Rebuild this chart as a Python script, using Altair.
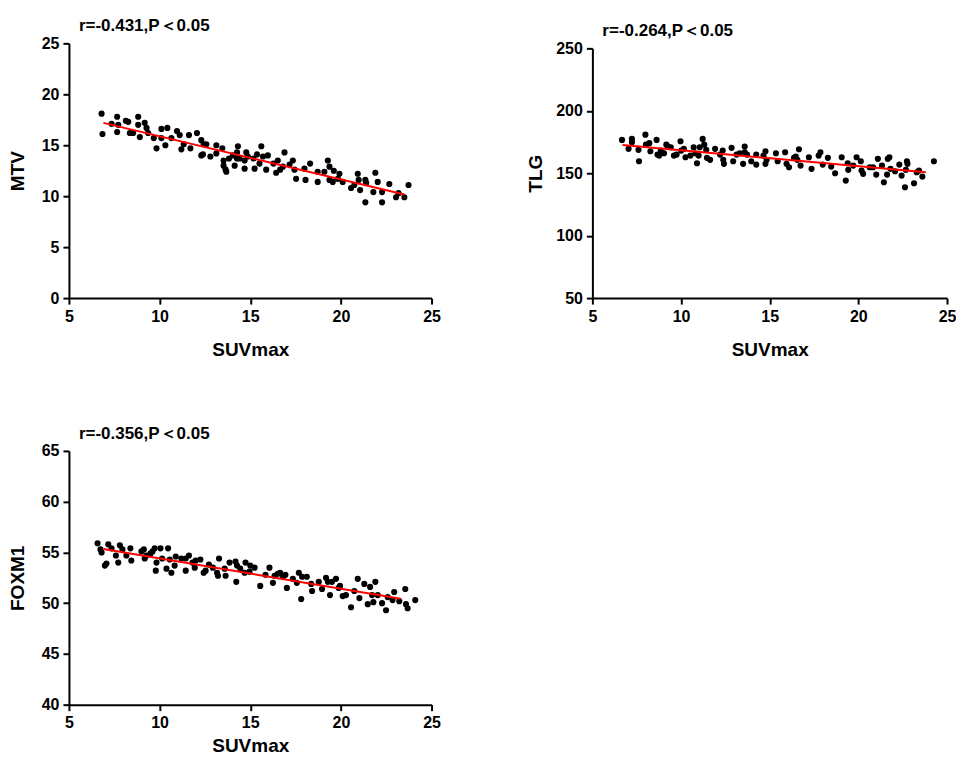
import altair as alt
import pandas as pd

# ---------------- data ----------------
mtv_suv = [6.8, 6.85, 7.35, 7.66, 7.72, 7.66, 8.14, 8.27, 8.36, 8.54, 8.82, 8.82, 8.91, 9.18, 9.28, 9.37,
           9.68, 9.83, 10.10, 10.10, 10.32, 10.43, 10.65, 10.96, 11.11, 11.20, 11.33, 11.62, 11.70, 12.06,
           12.30, 12.30, 12.39, 12.43, 12.58, 12.80, 13.13, 13.13, 13.46, 13.53, 13.53, 13.64, 13.68, 13.83,
           14.05, 14.14, 14.27, 14.27, 14.32, 14.41, 14.69, 14.78, 14.69, 14.87, 15.18, 15.24, 15.37, 15.51,
           15.61, 15.70, 15.88, 15.97, 16.28, 16.43, 16.52, 16.65, 16.80, 16.89, 17.17, 17.35, 17.44, 17.53,
           17.99, 18.05, 18.30, 18.72, 18.72, 19.09, 19.28, 19.37, 19.37, 19.55, 19.61, 19.83, 19.92, 20.10,
           20.56, 20.74, 20.93, 20.98, 21.06, 21.35, 21.35, 21.39, 21.79, 21.90, 22.03, 22.27, 22.27, 22.67,
           23.04, 23.18, 23.50, 23.73]
mtv_val = [18.1, 16.1, 17.1, 17.8, 17.0, 16.3, 17.4, 17.3, 16.2, 16.2, 17.8, 17.0, 15.8, 17.2, 16.7, 16.2,
           15.7, 14.7, 16.6, 15.7, 15.0, 16.7, 15.7, 16.4, 16.0, 14.6, 15.1, 16.0, 14.7, 16.2,
           15.5, 14.0, 14.1, 15.1, 15.1, 13.9, 15.0, 14.2, 14.7, 13.5, 13.0, 12.6, 12.4, 13.7,
           14.0, 13.0, 14.3, 13.7, 14.9, 13.7, 13.5, 14.3, 12.7, 13.9, 13.7, 12.7, 14.1, 13.2,
           14.9, 13.9, 12.6, 14.0, 13.2, 12.3, 13.5, 12.6, 12.9, 14.3, 13.1, 13.5, 12.6, 11.7,
           12.7, 11.6, 13.2, 12.4, 11.4, 12.4, 13.5, 12.9, 11.6, 11.4, 12.5, 11.7, 12.2, 11.4,
           10.8, 11.1, 12.2, 11.6, 10.6, 9.4, 11.6, 11.3, 10.4, 12.3, 11.4, 9.4, 10.4, 11.2,
           9.9, 10.3, 9.9, 11.1]

tlg_suv = [6.67, 7.04, 7.23, 7.23, 7.60, 7.63, 7.99, 8.02, 8.21, 8.27, 8.62, 8.67, 8.77, 8.86, 9.04, 9.17,
           9.27, 9.42, 9.60, 9.75, 9.97, 10.01, 10.16, 10.25, 10.53, 10.71, 10.81, 10.90, 10.99, 11.05,
           11.22, 11.31, 11.42, 11.46, 11.64, 11.92, 12.20, 12.35, 12.38, 12.42, 12.85, 12.94, 13.13, 13.31,
           13.50, 13.59, 13.59, 13.72, 13.96, 14.24, 14.24, 14.65, 14.76, 14.76, 14.83, 15.35, 15.45, 15.87,
           15.95, 16.09, 16.37, 16.47, 16.56, 16.65, 16.74, 17.21, 17.36, 17.76, 17.86, 17.99, 18.28, 18.47,
           18.69, 19.06, 19.29, 19.40, 19.43, 19.71, 19.90, 20.14, 20.18, 20.27, 20.64, 20.83, 21.01, 21.10,
           21.33, 21.44, 21.62, 21.66, 21.75, 21.81, 22.07, 22.31, 22.44, 22.63, 22.68, 22.74, 22.77, 23.14,
           23.29, 23.42, 23.61, 24.26]
tlg_val = [176.7, 169.5, 177.5, 174.9, 168.7, 159.6, 180.9, 172.9, 174.1, 167.6, 176.7, 164.9, 164.1, 168.1, 166.0, 172.9,
           171.3, 170.8, 164.1, 164.9, 175.6, 168.1, 169.5, 162.8, 164.1, 170.8, 166.0, 158.0, 164.1, 170.8,
           177.5, 172.9, 168.7, 162.3, 160.7, 169.5, 164.9, 168.1, 160.7, 157.5, 170.3, 159.6, 164.9, 166.0,
           157.5, 171.3, 166.8, 164.9, 159.6, 164.9, 156.9, 164.1, 167.6, 157.5, 160.7, 166.0, 159.6, 166.8,
           157.5, 154.8, 162.3, 163.3, 160.7, 169.2, 156.1, 162.8, 153.5, 164.1, 166.8, 156.9, 162.3, 155.3,
           150.0, 162.8, 144.1, 158.0, 152.7, 156.1, 162.8, 159.6, 152.1, 149.5, 154.8, 154.8, 148.9, 161.5,
           156.1, 142.8, 148.9, 161.5, 162.8, 153.5, 151.6, 156.9, 148.1, 138.8, 152.7, 159.6, 157.5, 142.0,
           150.8, 152.1, 147.3, 159.6]

foxm1_suv = [6.58, 6.74, 6.80, 6.98, 7.07, 7.17, 7.35, 7.59, 7.72, 7.81, 7.95, 8.17, 8.39, 8.44, 9.00, 9.13,
             9.18, 9.28, 9.50, 9.61, 9.73, 9.79, 9.83, 10.05, 10.14, 10.38, 10.47, 10.56, 10.65, 10.83,
             10.89, 11.20, 11.44, 11.44, 11.62, 11.81, 11.94, 11.99, 12.25, 12.43, 12.54, 12.72, 12.94, 13.17,
             13.22, 13.28, 13.59, 13.64, 13.86, 14.19, 14.23, 14.27, 14.45, 14.69, 14.74, 14.96, 15.00, 15.24,
             15.55, 15.84, 16.06, 16.25, 16.34, 16.52, 16.65, 16.80, 16.94, 17.02, 17.35, 17.57, 17.68, 17.81,
             17.86, 18.12, 18.36, 18.41, 18.78, 18.96, 19.18, 19.28, 19.40, 19.51, 19.73, 19.88, 19.95, 20.10,
             20.28, 20.56, 20.74, 20.93, 21.02, 21.29, 21.48, 21.61, 21.72, 21.79, 21.90, 22.03, 22.27, 22.49,
             22.58, 22.85, 22.94, 23.22, 23.55, 23.59, 23.68, 24.10]
foxm1_val = [55.9, 55.3, 55.0, 53.7, 53.9, 55.8, 55.4, 54.7, 54.0, 55.7, 55.3, 54.7, 55.4, 54.2, 55.1, 55.3,
             54.4, 54.7, 54.9, 55.1, 55.4, 53.2, 54.0, 55.4, 54.4, 53.4, 55.4, 54.3, 53.0, 53.7,
             54.6, 54.4, 53.2, 54.4, 54.7, 54.0, 53.5, 54.2, 54.3, 53.0, 53.2, 53.8, 53.5, 53.0,
             52.7, 54.4, 53.4, 52.7, 54.0, 54.1, 52.1, 53.7, 53.4, 53.0, 54.0, 53.1, 53.7, 53.5,
             51.7, 52.8, 53.5, 52.0, 52.7, 52.9, 53.0, 52.6, 52.8, 51.5, 52.4, 52.0, 53.0, 50.4,
             52.6, 52.6, 51.9, 51.2, 52.1, 51.4, 52.5, 52.1, 50.8, 52.1, 52.4, 51.5, 51.7, 50.7,
             50.8, 49.6, 51.2, 52.4, 50.5, 51.9, 49.9, 51.6, 50.8, 50.1, 52.1, 50.8, 50.0, 49.3,
             50.6, 50.3, 51.1, 50.2, 51.4, 49.9, 49.5, 50.3]

panel_titles = ["r=-0.431,P\uff1c0.05", "r=-0.264,P\uff1c0.05", "r=-0.356,P\uff1c0.05"]
y_titles = ["MTV", "TLG", "FOXM1"]
y_domains = [[0, 25], [50, 250], [40, 65]]
y_ticks = [[0, 5, 10, 15, 20, 25], [50, 100, 150, 200, 250], [40, 45, 50, 55, 60, 65]]
x_ticks = [5, 10, 15, 20, 25]
fit_extents = [[6.9, 23.5], [6.7, 23.8], [6.9, 23.3]]

FONT = "Liberation Sans"


def panel(xs, ys, i, w, h, y_range=None, title_offset=0, x_title_pad=16, y_title_pad=14):
    df = pd.DataFrame({"SUVmax": xs, "val": ys})
    x = alt.X("SUVmax:Q", scale=alt.Scale(domain=[5, 25], nice=False, zero=False),
              axis=alt.Axis(values=x_ticks, title="SUVmax", titlePadding=x_title_pad,
                            labelFlush=False))
    yscale = alt.Scale(domain=y_domains[i], nice=False, zero=False)
    if y_range is not None:
        yscale = alt.Scale(domain=y_domains[i], nice=False, zero=False, range=y_range)
    y = alt.Y("val:Q", scale=yscale,
              axis=alt.Axis(values=y_ticks[i], title=y_titles[i], titlePadding=y_title_pad,
                            labelFlush=False))
    pts = alt.Chart(df).mark_circle(size=38, color="black", opacity=1).encode(x=x, y=y)
    line = alt.Chart(df).transform_regression(
        "SUVmax", "val", method="linear", extent=fit_extents[i]
    ).mark_line(color="#ff0000", strokeWidth=2).encode(x=x, y=y)
    return alt.layer(pts, line).properties(
        width=w, height=h,
        title=alt.TitleParams(panel_titles[i], anchor="start", frame="group", dx=10,
                              offset=title_offset, fontSize=17, font=FONT,
                              fontWeight="bold", color="black"),
    )


p1 = panel(mtv_suv, mtv_val, 0, 363, 255)
p2 = panel(tlg_suv, tlg_val, 1, 355, 255, y_range=[255, 5], y_title_pad=10)
p3 = panel(foxm1_suv, foxm1_val, 2, 363, 254, x_title_pad=6)

chart = alt.vconcat(
    alt.hconcat(p1, p2, spacing=86),
    p3,
    spacing=66,
).properties(
    padding={"left": 0, "top": 9, "right": 0, "bottom": 0}
).configure_view(stroke=None).configure_axis(
    grid=False,
    domainColor="black", domainWidth=2,
    tickColor="black", tickWidth=2, tickSize=6,
    labelFont=FONT, labelFontSize=16, labelFontWeight="bold", labelColor="black", labelPadding=4,
    titleFont=FONT, titleFontSize=19, titleFontWeight="bold", titleColor="black",
)

chart.save("out.html", embed_options={"renderer": "svg", "actions": False})
